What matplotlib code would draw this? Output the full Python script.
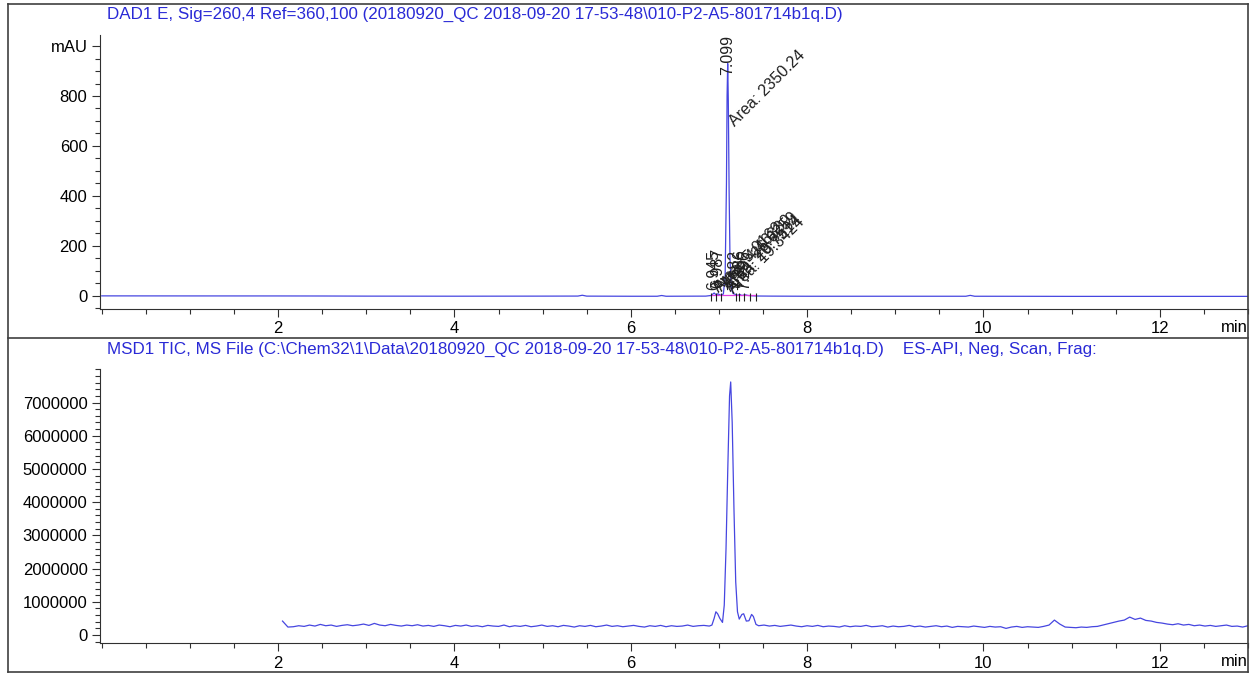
import numpy as np
import matplotlib
matplotlib.use("Agg")
import matplotlib.pyplot as plt
from matplotlib.ticker import FixedLocator, MultipleLocator
from matplotlib.lines import Line2D

plt.rcParams['font.family'] = ['Liberation Sans', 'DejaVu Sans']

# ---- DAD signal (mAU) ----
dad_t = [0.0, 1.0, 2.0, 2.5, 3.0, 4.0, 5.0, 5.4, 5.45, 5.5, 6.0, 6.3, 6.35, 6.4,
         6.85, 6.91, 6.945, 6.97, 6.987, 7.02, 7.05, 7.07, 7.085, 7.092, 7.099,
         7.106, 7.115, 7.125, 7.14, 7.16, 7.182, 7.21, 7.236, 7.26, 7.296, 7.33,
         7.42, 7.6, 8.0, 9.0, 9.8, 9.85, 9.9, 10.5, 11.0, 12.0, 13.0]
dad_mau = [0.5, 0.3, 0.2, 0.0, -0.5, -0.8, -0.5, -0.3, 3.0, -0.5, -1.0, -1.0, 2.0, -1.0,
           -0.5, 2.0, 12.0, 4.0, 9.0, 3.0, 8.0, 80.0, 450.0, 800.0, 930.0,
           780.0, 420.0, 150.0, 30.0, 10.0, 7.0, 3.0, 6.0, 2.0, 5.0, 2.0,
           0.0, -0.5, -1.0, -1.0, -1.0, 2.5, -1.0, -1.2, -1.5, -1.5, -1.5]

peak_rt = [6.945, 6.987, 7.099, 7.182, 7.236, 7.296]
peak_label_y = [24, 30, 884, 24, 28, 24]
peak_area = ["Area: 5.0162", "Area: 4.46339", "Area: 2350.24",
             "Area: 26.6259", "Area: 20.7514", "Area: 19.3424"]
area_x = [6.96, 7.00, 7.15, 7.07, 7.10, 7.13]
area_y = [24, 28, 690, 40, 28, 20]
integ_marks = [6.91, 6.97, 7.02, 7.19, 7.23, 7.28, 7.35, 7.42]

# ---- MSD TIC (x1000 counts) ----
ms_left = [420, 240, 250, 280, 260, 300, 270, 320, 280, 300, 260, 290, 310, 280, 300,
           330, 290, 350, 300, 280, 320, 290, 270, 300, 280, 310, 270, 290, 260, 300,
           280, 250, 290, 270, 300, 260, 280, 250, 290, 270, 260, 300, 250, 280, 260,
           290, 250, 270, 300, 260, 280, 250, 290, 270, 240, 280, 260, 290, 250, 270,
           300, 260, 280, 250, 270, 290, 260, 240, 280, 260, 290, 250, 280, 260, 270,
           300, 260, 280, 290, 270]
ms_peak_t = [6.92, 6.945, 6.965, 6.985, 7.01, 7.04, 7.06, 7.08, 7.10, 7.12, 7.133,
             7.15, 7.17, 7.19, 7.21, 7.23, 7.26, 7.28, 7.31, 7.34, 7.37, 7.39, 7.42]
ms_peak = [300, 500, 700, 640, 500, 380, 900, 2600, 5000, 7200, 7620,
           6400, 3800, 1600, 700, 480, 620, 640, 420, 430, 620, 560, 320]
ms_right = [280, 300, 270, 290, 260, 280, 300, 270, 250, 280,
            260, 290, 250, 270, 260, 240, 280, 250, 270, 260,
            290, 250, 260, 280, 240, 270, 250, 260, 290, 250,
            270, 240, 260, 280, 250, 270, 230, 260, 250, 240,
            270, 250, 230, 260, 240, 250, 200, 240, 260, 230,
            250, 240, 230, 260,
            300, 450, 330, 240, 230, 220, 240, 230, 250, 260,
            300, 340, 380, 420, 450, 540, 470, 510, 440, 420,
            380, 360, 330, 310, 340, 300, 320, 280, 300, 270,
            290, 260, 280, 300, 260, 270, 240, 280]

ms_t = np.concatenate([np.linspace(2.05, 6.89, len(ms_left)), ms_peak_t,
                       np.linspace(7.45, 13.0, len(ms_right))])
ms_tic = np.concatenate([ms_left, ms_peak, ms_right]) * 1000.0

W, H = 1252, 673
fig = plt.figure(figsize=(W / 100, H / 100), dpi=100)

def px_axes(x0, y0, x1, y1):
    return fig.add_axes([x0 / W, 1 - y1 / H, (x1 - x0) / W, (y1 - y0) / H])

title_col = '#2a2ad6'
line_col = '#4646e0'
fs = 12

def style(ax):
    for s in ['top', 'right']:
        ax.spines[s].set_visible(False)
    for s in ['left', 'bottom']:
        ax.spines[s].set_color('#303030')
        ax.spines[s].set_linewidth(0.8)
    ax.tick_params(which='major', direction='out', length=6, width=0.8,
                   color='#303030', labelsize=fs, pad=3)
    ax.tick_params(which='minor', direction='out', length=3.5, width=0.8,
                   color='#303030')
    ax.xaxis.set_major_locator(FixedLocator([2, 4, 6, 8, 10, 12]))
    ax.xaxis.set_minor_locator(MultipleLocator(0.5))
    ax.set_xlim(-0.02, 13.0)
    ax.text(1.0, -0.04, "min", transform=ax.transAxes, ha='right', va='top',
            fontsize=fs)

# top panel
ax1 = px_axes(100, 35, 1248, 309)
style(ax1)
ax1.plot(dad_t, dad_mau, color=line_col, lw=0.9)
ax1.plot([min(integ_marks), max(integ_marks)], [2, 2], color='#e040e0', lw=0.9)
ax1.vlines(integ_marks, -22, 12, color='#202020', lw=0.8)
ax1.set_ylim(-52, 1044)
ax1.yaxis.set_major_locator(FixedLocator([0, 200, 400, 600, 800, 1000]))
ax1.set_yticklabels(['0', '200', '400', '600', '800', 'mAU'])
ax1.yaxis.set_minor_locator(MultipleLocator(50))
for rt, ly in zip(peak_rt, peak_label_y):
    ax1.text(rt, ly, f"{rt:.3f}", rotation=90, rotation_mode='anchor',
             ha='left', va='center', fontsize=11.5, color='#202020')
for ax_, ay, lab in zip(area_x, area_y, peak_area):
    ax1.text(ax_, ay, lab, rotation=45, rotation_mode='anchor',
             ha='left', va='center', fontsize=11.5, color='#202020')

# bottom panel
ax2 = px_axes(100, 369, 1248, 643)
style(ax2)
ax2.plot(ms_t, ms_tic, color=line_col, lw=0.9)
ax2.set_ylim(-0.24e6, 8.01e6)
ax2.yaxis.set_major_locator(FixedLocator(np.arange(0, 7.5e6, 1e6)))
ax2.yaxis.set_minor_locator(MultipleLocator(2e5))
ax2.set_yticklabels([f"{int(v)}" for v in np.arange(0, 7.5e6, 1e6)])

fig.text(107 / W, 1 - 14 / H,
         "DAD1 E, Sig=260,4 Ref=360,100 (20180920_QC 2018-09-20 17-53-48\\010-P2-A5-801714b1q.D)",
         color=title_col, fontsize=12.25, ha='left', va='center')
fig.text(107 / W, 1 - 349 / H,
         "MSD1 TIC, MS File (C:\\Chem32\\1\\Data\\20180920_QC 2018-09-20 17-53-48\\010-P2-A5-801714b1q.D)    ES-API, Neg, Scan, Frag:",
         color=title_col, fontsize=12.25, ha='left', va='center')

# frame around the two panels
bx0, bx1, by0, by1, bmid = 8 / W, 1248 / W, 1 - 4 / H, 1 - 672 / H, 1 - 338 / H
for xs, ys in [([bx0, bx1], [by0, by0]), ([bx0, bx1], [by1, by1]),
               ([bx0, bx0], [by0, by1]), ([bx1, bx1], [by0, by1]),
               ([bx0, bx1], [bmid, bmid])]:
    fig.add_artist(Line2D(xs, ys, transform=fig.transFigure, color='#404040', lw=1.2))

fig.savefig("out.png", dpi=100)
